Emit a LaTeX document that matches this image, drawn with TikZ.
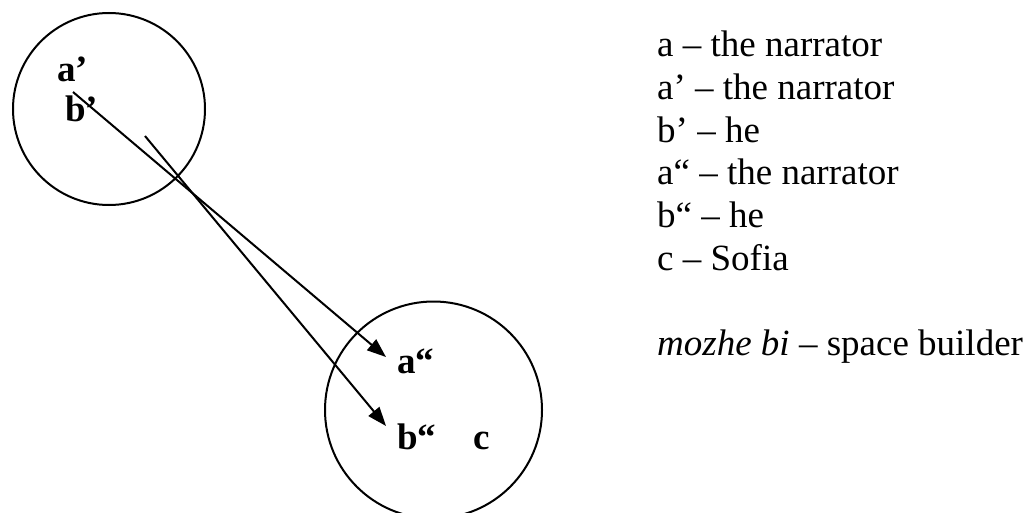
\documentclass[tikz,border=0pt]{standalone}
\usepackage{fontspec}
\setmainfont{Liberation Serif}
\usetikzlibrary{arrows.meta}
\begin{document}
\begin{tikzpicture}[x=1pt,y=-1pt,
  lbl/.style={inner sep=0pt, anchor=base west, font=\fontsize{37}{42.7}\selectfont\bfseries},
  txt/.style={inner sep=0pt, anchor=base west, font=\fontsize{37}{42.7}\selectfont},
  space/.style={draw, circle, line width=2pt, inner sep=0pt},
  link/.style={line width=2pt, -{Triangle[length=19pt,width=14pt]}}]
\clip (0,0) rectangle (1032,513);
\fill[white] (0,0) rectangle (1032,513);
% mental spaces
\node[space, minimum size=192pt] (s1) at (109,109) {};
\node[space, minimum size=217pt] (s2) at (433.5,410) {};
% labels
\node[lbl] (ap) at (57,82) {a’};
\node[lbl] (bp) at (65,122) {b’};
\node[lbl] (app) at (397,373) {a“};
\node[lbl] (bpp) at (397,449) {b“};
\node[lbl] (c) at (473,449) {c};
% connectors
\coordinate (from1) at (73,92);
\coordinate (to1) at (386,357);
\coordinate (from2) at (145,136);
\coordinate (to2) at (386,426);
\draw[link] (from1) -- (to1);
\draw[link] (from2) -- (to2);
% legend
\node[txt] (l1) at (657,56.7) {a – the narrator};
\node[txt] (l2) at (657,99.4) {a’ – the narrator};
\node[txt] (l3) at (657,142.1) {b’ – he};
\node[txt] (l4) at (657,184.8) {a“ – the narrator};
\node[txt] (l5) at (657,227.5) {b“ – he};
\node[txt] (l6) at (657,270.2) {c – Sofia};
\node[txt] (l7) at (657,355.6) {\textit{mozhe bi} – space builder};
\end{tikzpicture}
\end{document}
